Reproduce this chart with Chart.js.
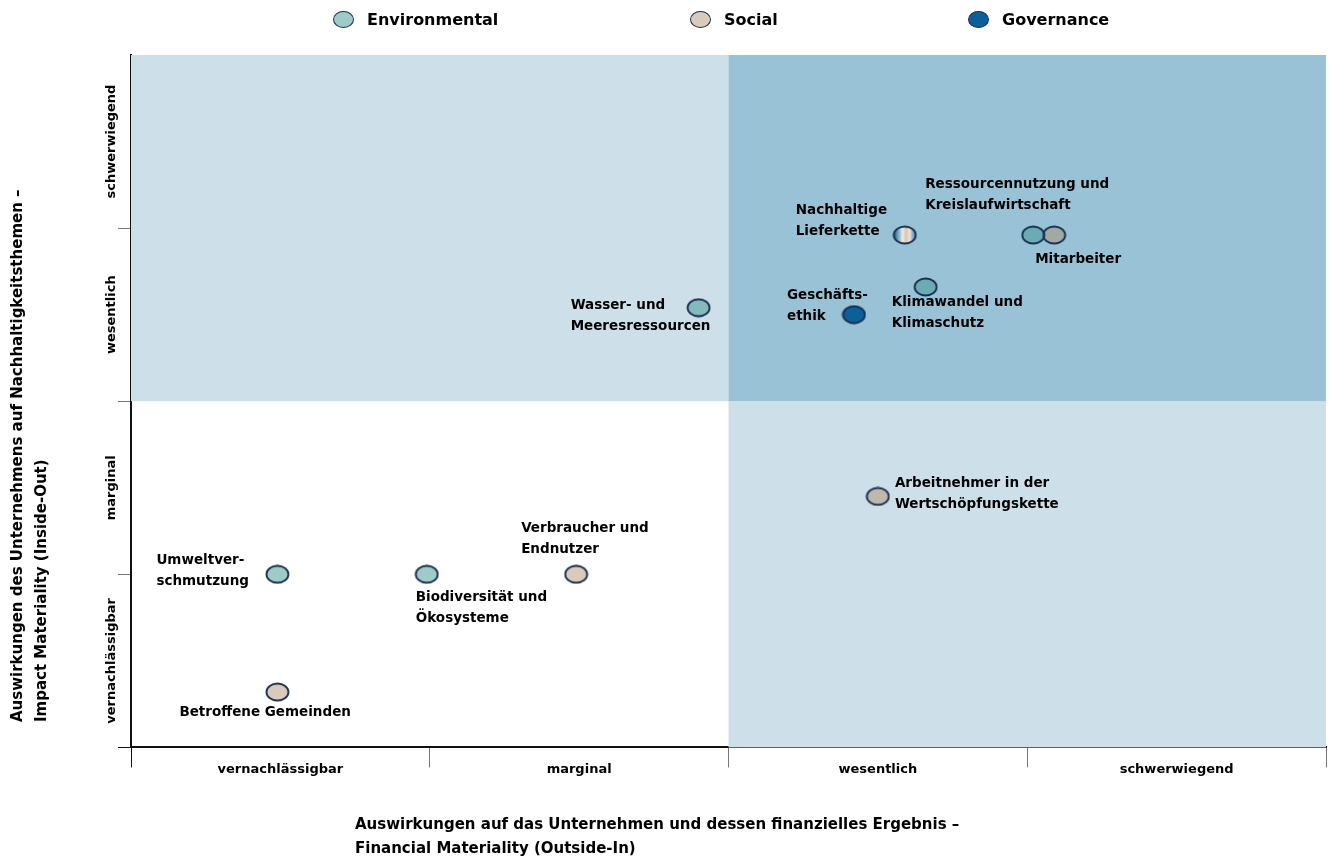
<!DOCTYPE html>
<html>
<head>
<meta charset="utf-8">
<script src="https://cdn.jsdelivr.net/npm/chart.js@4.4.1/dist/chart.umd.min.js"></script>
<style>
  html, body { margin: 0; padding: 0; background: #fff; overflow: hidden; }
  #wrap { position: relative; width: 1331px; height: 857px; }
  #chart { display: block; }
  .item {
    position: absolute; top: 10px; display: flex; align-items: center; gap: 13px;
    font: bold 16px "DejaVu Sans", sans-serif; color: #000;
  }
  .dot { width: 19px; height: 15px; border-radius: 50%; border: 1.5px solid #1c2f55; }
</style>
</head>
<body>
<div id="wrap">
  <canvas id="chart" width="1331" height="857"></canvas>
  <div id="legend"></div>
</div>
<script>
// axis categories
const levels = ["vernachlässigbar", "marginal", "wesentlich", "schwerwiegend"];
const xTitle = ["Auswirkungen auf das Unternehmen und dessen finanzielles Ergebnis –", "Financial Materiality (Outside-In)"];
const yTitle = ["Auswirkungen des Unternehmens auf Nachhaltigkeitsthemen –", "Impact Materiality (Inside-Out)"];

// Environmental
const envTopics = ["Wasser- und\nMeeresressourcen", "Ressourcennutzung und\nKreislaufwirtschaft", "Klimawandel und\nKlimaschutz", "Umweltver-\nschmutzung", "Biodiversität und\nÖkosysteme"];
const envFinancial = [1.90, 3.02, 2.66, 0.49, 0.99];
const envImpact = [2.54, 2.96, 2.66, 1.0, 1.0];

// Social
const socTopics = ["Mitarbeiter", "Arbeitnehmer in der\nWertschöpfungskette", "Verbraucher und\nEndnutzer", "Betroffene Gemeinden"];
const socFinancial = [3.09, 2.50, 1.49, 0.49];
const socImpact = [2.96, 1.45, 1.0, 0.32];

// Governance
const govTopics = ["Geschäfts-\nethik"];
const govFinancial = [2.42];
const govImpact = [2.50];

// mixed topic (striped marker)
const mixTopics = ["Nachhaltige\nLieferkette"];
const mixFinancial = [2.59];
const mixImpact = [2.96];

// label placement relative to the marker, px
const envLabelPos = [[-128, -2], [-108, -51], [-34, 16], [-121, -14], [-11, 23]];
const socLabelPos = [[-19, 24], [17, -13], [-55, -46], [-98, 20]];
const govLabelPos = [[-67, -19]];
const mixLabelPos = [[-109, -25]];

const envColor = "rgba(62,150,145,0.5)";
const socColor = "rgba(170,140,100,0.45)";
const govColor = "#0b609a";
const edge = "#1a2d52";
const font = "'DejaVu Sans', sans-serif";

function ellipse(fill) {
  const c = document.createElement("canvas");
  c.width = 25; c.height = 20;
  const g = c.getContext("2d");
  g.beginPath();
  g.ellipse(12.5, 10, 11, 8.5, 0, 0, Math.PI * 2);
  g.fillStyle = typeof fill === "function" ? fill(g) : fill;
  g.fill();
  g.lineWidth = 1.8;
  g.strokeStyle = edge;
  g.stroke();
  return c;
}

const stripes = g => {
  const gr = g.createLinearGradient(1.5, 0, 23.5, 0);
  gr.addColorStop(0, "#0b609a");
  gr.addColorStop(0.22, "#7fb0c4");
  gr.addColorStop(0.4, "#f1ede4");
  gr.addColorStop(0.55, "#d8c6ad");
  gr.addColorStop(0.72, "#e9e4da");
  gr.addColorStop(0.88, "#7aa9bd");
  gr.addColorStop(1, "#3f7fa8");
  return gr;
};

const toPts = (xs, ys) => xs.map((x, i) => ({ x: x, y: ys[i] }));

// legend: marker left edges as in the original
const legendItems = [["Environmental", envColor, 333], ["Social", socColor, 690], ["Governance", govColor, 968]];
document.getElementById("legend").innerHTML = legendItems.map(([t, c, left]) =>
  `<div class="item" style="left:${left}px"><span class="dot" style="background:${c}"></span><span>${t}</span></div>`).join("");

const quadrants = {
  id: "quadrants",
  beforeDatasetsDraw(chart) {
    const { ctx, chartArea: a, scales: { x, y } } = chart;
    const mx = x.getPixelForValue(2), my = y.getPixelForValue(2);
    ctx.save();
    ctx.fillStyle = "#cddfe8";
    ctx.fillRect(a.left, a.top, mx - a.left, my - a.top);
    ctx.fillRect(mx, my, a.right - mx, a.bottom - my);
    ctx.fillStyle = "#99c2d6";
    ctx.fillRect(mx, a.top, a.right - mx, my - a.top);
    ctx.restore();
  }
};

const texts = {
  id: "texts",
  afterDraw(chart) {
    const { ctx, chartArea: a, scales: { y } } = chart;
    ctx.save();
    ctx.fillStyle = "#000";
    ctx.textBaseline = "middle";

    // point labels
    ctx.font = "bold 13.5px " + font;
    ctx.textAlign = "left";
    chart.data.datasets.forEach((ds, di) => {
      chart.getDatasetMeta(di).data.forEach((pt, i) => {
        const [dx, dy] = ds.labelPos[i];
        ds.topics[i].split("\n").forEach((line, k) => {
          ctx.fillText(line, pt.x + dx, pt.y + dy + k * 21);
        });
      });
    });

    // y category labels
    ctx.font = "bold 13px " + font;
    ctx.textAlign = "center";
    levels.forEach((lab, i) => {
      ctx.save();
      ctx.translate(a.left - 19, y.getPixelForValue(i + 0.5));
      ctx.rotate(-Math.PI / 2);
      ctx.fillText(lab, 0, 0);
      ctx.restore();
    });

    // axis titles
    ctx.font = "bold 15px " + font;
    ctx.textAlign = "left";
    xTitle.forEach((line, k) => ctx.fillText(line, 355, 825 + k * 24));
    yTitle.forEach((line, k) => {
      ctx.save();
      ctx.translate(18 + k * 24, 722);
      ctx.rotate(-Math.PI / 2);
      ctx.fillText(line, 0, 0);
      ctx.restore();
    });
    ctx.restore();
  }
};

const halfTicks = scale => {
  scale.ticks = [];
  for (let v = 0; v <= 4; v += 0.5) scale.ticks.push({ value: v });
};

new Chart(document.getElementById("chart"), {
  type: "scatter",
  data: {
    datasets: [
      { label: "Environmental", data: toPts(envFinancial, envImpact), topics: envTopics, labelPos: envLabelPos, pointStyle: ellipse(envColor) },
      { label: "Social", data: toPts(socFinancial, socImpact), topics: socTopics, labelPos: socLabelPos, pointStyle: ellipse(socColor) },
      { label: "Governance", data: toPts(govFinancial, govImpact), topics: govTopics, labelPos: govLabelPos, pointStyle: ellipse(govColor) },
      { label: "Nachhaltige Lieferkette", data: toPts(mixFinancial, mixImpact), topics: mixTopics, labelPos: mixLabelPos, pointStyle: ellipse(stripes) }
    ]
  },
  options: {
    responsive: false,
    animation: false,
    events: [],
    layout: { padding: { top: 55, right: -3, left: 118, bottom: 76 } },
    plugins: { legend: { display: false }, tooltip: { enabled: false } },
    scales: {
      x: {
        type: "linear", min: 0, max: 4,
        afterBuildTicks: halfTicks,
        afterFit: s => { s.height += 10; },
        border: { color: "#111", width: 2 },
        grid: {
          drawOnChartArea: false, tickLength: 20,
          color: c => c.tick.value === 0 ? "#111" : (c.tick.value % 1 === 0 ? "#777" : "rgba(0,0,0,0)")
        },
        ticks: {
          padding: -6, maxRotation: 0, autoSkip: false,
          color: "#000",
          font: { family: font, size: 13, weight: "bold" },
          callback: v => v % 1 === 0 ? "" : levels[Math.floor(v)]
        }
      },
      y: {
        type: "linear", min: 0, max: 4,
        afterBuildTicks: scale => { scale.ticks = [0, 1, 2, 3, 4].map(v => ({ value: v })); },
        border: { color: "#111", width: 2 },
        grid: {
          drawOnChartArea: false, tickLength: 13,
          color: c => c.tick.value === 0 ? "#111" : (c.tick.value === 4 ? "rgba(0,0,0,0)" : "#777")
        },
        ticks: { display: false }
      }
    }
  },
  plugins: [quadrants, texts]
});
</script>
</body>
</html>
